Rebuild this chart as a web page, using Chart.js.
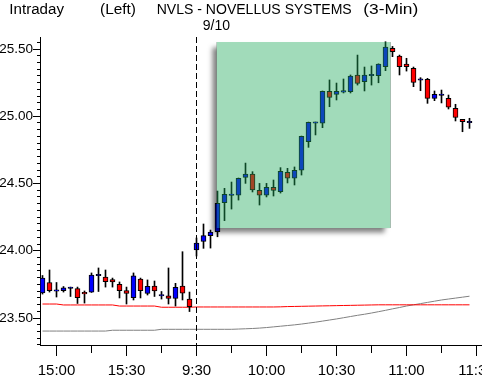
<!DOCTYPE html>
<html><head><meta charset="utf-8">
<script src="https://cdn.jsdelivr.net/npm/chart.js@4.4.0/dist/chart.umd.min.js"></script>
<style>html,body{margin:0;padding:0;background:#fff;overflow:hidden}canvas{display:block}</style>
</head><body>
<canvas id="c" width="482" height="382"></canvas>
<script>
// ---- data ----
const times = ['14:54','14:57','15:00','15:03','15:06','15:09','15:12','15:15','15:18','15:21','15:24','15:27','15:30','15:33','15:36','15:39','15:42','15:45','15:48','15:51','15:54','15:57',
 '9:30','9:33','9:36','9:39','9:42','9:45','9:48','9:51','9:54','9:57','10:00','10:03','10:06','10:09','10:12','10:15','10:18','10:21','10:24','10:27',
 '10:30','10:33','10:36','10:39','10:42','10:45','10:48','10:51','10:54','10:57','11:00','11:03','11:06','11:09','11:12','11:15','11:18','11:21','11:24','11:27'];
const open  = [23.686,23.764,23.700,23.703,23.720,23.719,23.690,23.693,23.815,23.805,23.786,23.751,23.704,23.651,23.790,23.682,23.738,23.665,23.664,23.646,23.738,23.641,
 24.006,24.069,24.112,24.142,24.357,24.412,24.414,24.546,24.571,24.449,24.414,24.472,24.439,24.583,24.539,24.600,24.811,24.948,24.948,25.186,25.163,25.180,25.183,25.307,25.257,25.302,25.301,25.368,25.505,25.448,25.388,25.357,25.268,25.275,25.133,25.155,25.133,25.059,24.977,24.952];
const high  = [23.816,23.857,23.764,23.734,23.730,23.730,23.701,23.835,23.872,23.857,23.797,23.768,23.730,23.835,23.797,23.783,23.775,23.697,23.872,23.758,23.993,23.693,
 24.095,24.199,24.154,24.444,24.464,24.511,24.541,24.652,24.588,24.501,24.501,24.526,24.618,24.613,24.623,24.853,24.957,24.957,25.188,25.270,25.247,25.277,25.307,25.455,25.366,25.374,25.390,25.554,25.519,25.455,25.431,25.366,25.287,25.282,25.188,25.195,25.158,25.089,24.977,24.985];
const low   = [23.678,23.693,23.656,23.693,23.660,23.608,23.611,23.690,23.697,23.730,23.730,23.649,23.604,23.634,23.649,23.671,23.660,23.641,23.604,23.589,23.634,23.548,
 23.961,24.018,24.020,24.104,24.224,24.310,24.377,24.501,24.437,24.340,24.400,24.407,24.429,24.504,24.489,24.563,24.769,24.861,24.915,25.071,25.121,25.173,25.173,25.232,25.188,25.232,25.249,25.339,25.443,25.307,25.336,25.220,25.190,25.096,25.116,25.099,25.054,24.965,24.885,24.910];
const close = [23.797,23.704,23.710,23.725,23.730,23.651,23.680,23.820,23.825,23.771,23.768,23.704,23.682,23.814,23.704,23.736,23.701,23.675,23.645,23.728,23.684,23.584,
 24.058,24.113,24.139,24.353,24.420,24.422,24.539,24.571,24.452,24.414,24.472,24.448,24.591,24.539,24.598,24.851,24.955,24.958,25.186,25.141,25.186,25.190,25.299,25.245,25.307,25.312,25.388,25.515,25.481,25.368,25.368,25.251,25.278,25.133,25.163,25.165,25.067,24.991,24.959,24.962];
const maShort = [23.604,23.604,23.604,23.597,23.597,23.597,23.597,23.597,23.597,23.597,23.597,23.589,23.589,23.589,23.589,23.589,23.589,23.580,23.580,23.580,23.580,23.580,
 23.582,23.582,23.582,23.582,23.582,23.582,23.582,23.582,23.582,23.582,23.582,23.582,23.583,23.585,23.586,23.587,23.588,23.589,23.590,23.591,23.592,23.593,23.594,23.595,23.596,23.597,23.598,23.598,23.598,23.598,23.598,23.598,23.598,23.598,23.598,23.598,23.598,23.598,23.598,23.598];
const maLong = [23.403,23.403,23.403,23.403,23.403,23.403,23.403,23.403,23.403,23.403,23.409,23.409,23.409,23.409,23.409,23.409,23.409,23.416,23.416,23.416,23.416,23.416,
 23.416,23.416,23.416,23.416,23.416,23.416,23.418,23.420,23.422,23.425,23.429,23.434,23.439,23.444,23.449,23.455,23.462,23.469,23.477,23.485,23.493,23.502,23.511,23.520,23.528,23.537,23.547,23.557,23.568,23.578,23.589,23.598,23.607,23.616,23.625,23.634,23.641,23.648,23.655,23.662];
const xTickIndex  = [2,12,22,32,42,52,62];
const xTickLabels = ['15:00','15:30','9:30','10:00','10:30','11:00','11:30'];
const xMinorIndex = [7,17,27,37,47,57];
const yTicks = [23.5,24.0,24.5,25.0,25.5];
const dayBreakIndex = 22;
const highlight = {x0:24.9, x1:49.7, yTop:25.552, yBottom:24.169};
const titleParts = [
  {text:'Intraday', x:9.3, w:54.7, base:14, size:14},
  {text:'(Left)', x:100, w:36, base:14, size:14},
  {text:'NVLS - NOVELLUS SYSTEMS', x:156.7, w:195, base:14, size:14},
  {text:'(3-Min)', x:363.3, w:55, base:14, size:14},
  {text:'9/10', x:202.7, w:27.3, base:30, size:15}
];

// ---- chart ----
const FONT = '"Liberation Sans", Arial, sans-serif';
const bodyColors = open.map((o,i)=> close[i] > o ? '#0000ff' : (close[i] < o ? '#ff0000' : '#000000'));
const bodies = open.map((o,i)=>({x:i, y:[o, close[i]]}));
const wicks = low.map((l,i)=>({x:i, y:[l, high[i]]}));
const lineShort = maShort.map((v,i)=>({x:i, y:v}));
const lineLong = maLong.map((v,i)=>({x:i, y:v}));

function alignPx(p){ return Math.round(p - 0.5) + 0.5; }

const decor = {
  id:'decor',
  afterDatasetsDraw(chart){
    const {ctx, chartArea:a, scales:{x, y}} = chart;
    // day separator
    ctx.save();
    const sx = Math.floor(x.getPixelForValue(dayBreakIndex)) + 0.5;
    ctx.strokeStyle = '#000'; ctx.lineWidth = 1; ctx.setLineDash([6,3]);
    ctx.beginPath(); ctx.moveTo(sx, a.top); ctx.lineTo(sx, a.bottom); ctx.stroke();
    ctx.restore();
    // highlight box with shadow
    const bx0 = x.getPixelForValue(highlight.x0), bx1 = x.getPixelForValue(highlight.x1);
    const by0 = y.getPixelForValue(highlight.yTop), by1 = y.getPixelForValue(highlight.yBottom);
    ctx.save();
    ctx.beginPath();
    ctx.rect(0,0,chart.width,chart.height);
    ctx.rect(bx0,by0,bx1-bx0,by1-by0);
    ctx.clip('evenodd');
    ctx.shadowColor = 'rgba(0,0,0,0.5)';
    ctx.shadowBlur = 5; ctx.shadowOffsetX = -5; ctx.shadowOffsetY = 5;
    ctx.fillStyle = '#000';
    ctx.fillRect(bx0,by0,bx1-bx0,by1-by0);
    ctx.restore();
    ctx.save();
    ctx.fillStyle = 'rgba(30,170,90,0.42)';
    ctx.fillRect(bx0,by0,bx1-bx0,by1-by0);
    ctx.restore();
  },
  afterDraw(chart){
    const {ctx, chartArea:a, scales:{x, y}} = chart;
    ctx.save();
    ctx.strokeStyle = '#000'; ctx.lineWidth = 1;
    ctx.beginPath();
    // minor y ticks every 0.05
    for (let k = 0; k <= 60; k++) {
      const v = 23.30 + k*0.05;
      if (v > y.max) break;
      if (Math.abs(v*2 - Math.round(v*2)) < 1e-6) continue;
      const py = alignPx(y.getPixelForValue(v));
      ctx.moveTo(a.left - 3, py); ctx.lineTo(a.left, py);
    }
    xMinorIndex.forEach(v=>{
      const px = alignPx(x.getPixelForValue(v));
      ctx.moveTo(px, a.bottom); ctx.lineTo(px, a.bottom + 8);
    });
    ctx.stroke();
    // titles
    ctx.fillStyle = '#000'; ctx.textBaseline = 'alphabetic'; ctx.textAlign = 'left';
    titleParts.forEach(p=>{
      ctx.font = p.size + 'px ' + FONT;
      const w = ctx.measureText(p.text).width;
      ctx.save();
      ctx.translate(p.x, p.base);
      ctx.scale(p.w / w, 1);
      ctx.fillText(p.text, 0, 0);
      ctx.restore();
    });
    ctx.restore();
  }
};

new Chart(document.getElementById('c'), {
  type:'bar',
  data:{
    labels: times,
    datasets:[
      {type:'line', label:'MA short', data:lineShort, borderColor:'#ff0000', borderWidth:1, pointRadius:0, tension:0, order:3},
      {type:'line', label:'MA long', data:lineLong, borderColor:'#808080', borderWidth:1, pointRadius:0, tension:0, order:4},
      {label:'High-Low', data:wicks, backgroundColor:'#000', borderWidth:0, barThickness:1, grouped:false, order:2},
      {label:'Open-Close', data:bodies, backgroundColor:bodyColors, borderColor:'#000', borderWidth:1, borderSkipped:false, barThickness:5, grouped:false, order:1}
    ]
  },
  options:{
    responsive:false, animation:false, devicePixelRatio:1,
    layout:{padding:{top:37, right:0, left:0, bottom:0}},
    plugins:{legend:{display:false}, tooltip:{enabled:false}, title:{display:false}},
    scales:{
      x:{type:'linear', min:-0.357, max:62.786, offset:false,
         grid:{display:true, drawOnChartArea:false, drawTicks:true, tickLength:11, tickColor:'#000', offset:false},
         border:{display:true, color:'#000', width:1},
         ticks:{autoSkip:false, maxRotation:0, minRotation:0, padding:6, color:'#000', font:{family:FONT, size:15},
                callback:(v)=>{ const i = xTickIndex.indexOf(v); return i >= 0 ? xTickLabels[i] : ''; }},
         afterBuildTicks:(s)=>{ s.ticks = xTickIndex.map(v=>({value:v})); },
         afterFit:(s)=>{ s.height = 37; s.paddingLeft = 0; s.paddingRight = 0; }
      },
      y:{type:'linear', min:23.2993, max:25.5893, beginAtZero:false,
         grid:{display:true, drawOnChartArea:false, drawTicks:true, tickLength:7, tickColor:'#000'},
         border:{display:true, color:'#000', width:1},
         ticks:{padding:0, color:'#000', font:{family:FONT, size:13.5}, callback:(v)=>Number(v).toFixed(2)},
         afterBuildTicks:(s)=>{ s.ticks = yTicks.map(v=>({value:v})); },
         afterFit:(s)=>{ s.width = 40; s.paddingTop = 0; s.paddingBottom = 0; }
      }
    }
  },
  plugins:[decor]
});
</script>
</body></html>
